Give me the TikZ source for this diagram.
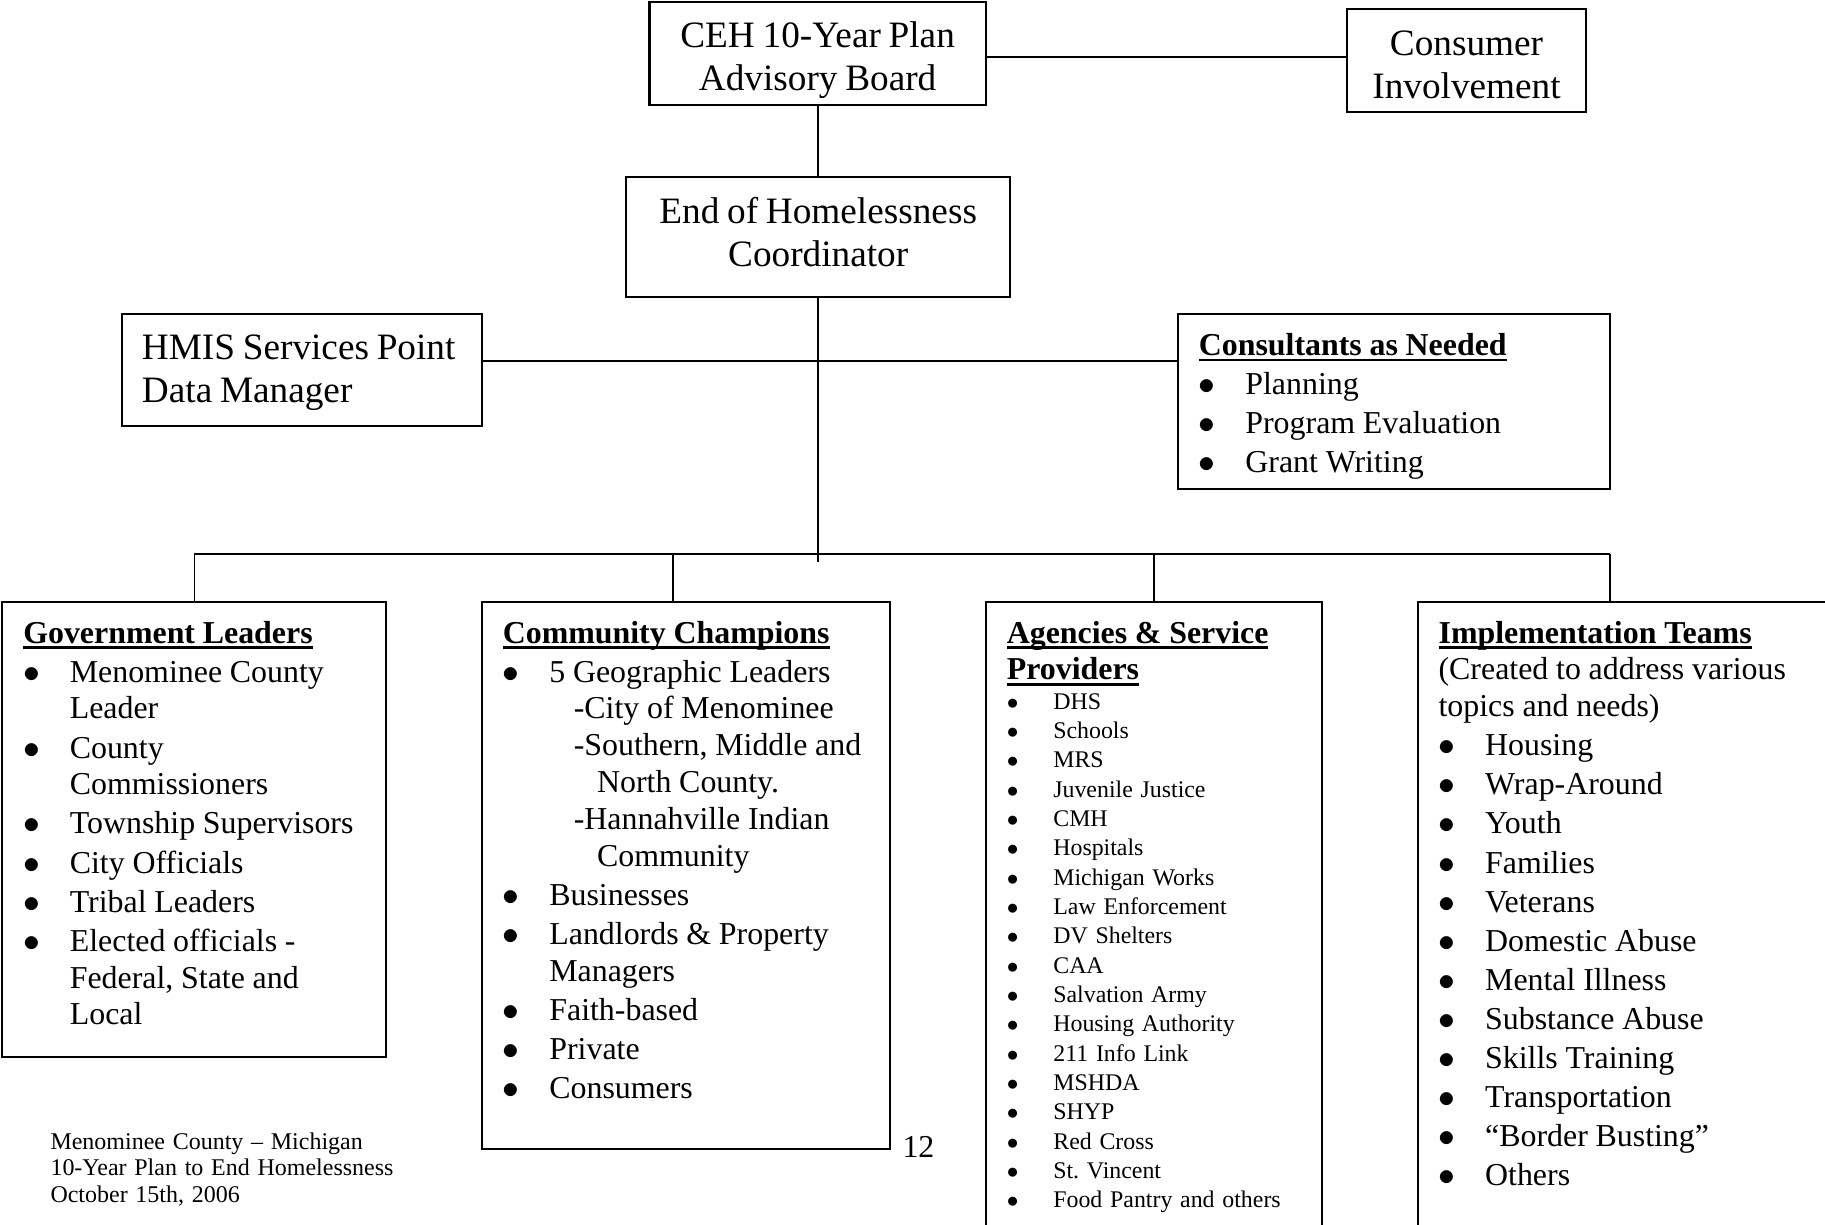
\documentclass[tikz,border=0pt]{standalone}
\usepackage{fontspec}
\setmainfont{Liberation Serif}
\usetikzlibrary{calc}

\newcommand{\bigtext}{\fontsize{16}{18.5}\selectfont}
\newcommand{\midtext}{\fontsize{13.7}{15.8}\selectfont\setlength{\parskip}{1pt}}
\newcommand{\smalltext}{\fontsize{10.25}{12.6}\selectfont\setlength{\parskip}{0pt}}
\newcommand{\foottext}{\fontsize{10.3}{11.5}\selectfont}
\newcommand{\ulhead}[1]{\leavevmode\setbox0=\hbox{\bfseries #1}\rlap{\rule[-2.5pt]{\wd0}{1.2pt}}\box0}
\newcommand{\bpoint}[1]{\par\hangindent=20pt\hangafter=1\noindent\makebox[20pt][l]{$\bullet$}#1}

\begin{document}
\begin{tikzpicture}[x=0.5pt,y=-0.5pt]
	\tikzset{box/.style = {shape=rectangle, draw, line width=0.9pt, inner sep=0pt, outer sep=0pt, anchor=north west}}
	\tikzset{link/.style = {line width=0.75pt}}
	
	\useasboundingbox (0,0) rectangle (1568,1052);
	
	% top of the chart
	\node[box, align=center, text width=144.5pt, text height=19.5pt, text depth=24.5pt] (BOARD) at (558,2)
	{\bigtext CEH 10-Year Plan\\ Advisory Board\par};
	\node[box, align=center, text width=103pt, text height=20pt, text depth=24pt] (CONSUMER) at (1157,8)
	{\bigtext Consumer\\ Involvement\par};
	\node[box, align=center, text width=165pt, text height=20pt, text depth=31.5pt] (COORD) at (538,152)
	{\bigtext End of Homelessness\\ Coordinator\par};
	\node[box, align=left, inner xsep=8.5pt, text width=137.5pt, text height=19.5pt, text depth=28.5pt] (HMIS) at (105,270)
	{\bigtext HMIS Services Point\\ Data Manager\par};
	\node[box, align=left, inner xsep=9pt, text width=167.5pt, text height=17.75pt, text depth=57.25pt] (CONSULT) at (1012,270)
	{\midtext \ulhead{Consultants as Needed}
		\bpoint{Planning}
		\bpoint{Program Evaluation}
		\bpoint{Grant Writing}\par};
	
	% the four groups
	\node[box, align=left, inner xsep=9pt, text width=147pt, text height=17.75pt, text depth=177.75pt] (GOV) at (2,517)
	{\midtext \ulhead{Government Leaders}
		\bpoint{Menominee County\newline Leader}
		\bpoint{County\newline Commissioners}
		\bpoint{Township Supervisors}
		\bpoint{City Officials}
		\bpoint{Tribal Leaders}
		\bpoint{Elected officials -\newline Federal, State and\newline Local}\par};
	\node[box, align=left, inner xsep=9pt, text width=157.5pt, text height=17.75pt, text depth=217.25pt] (CHAMP) at (414,517)
	{\midtext \ulhead{Community Champions}
		\bpoint{5 Geographic Leaders\newline
			\hspace*{10.5pt}-City of Menominee\newline
			\hspace*{10.5pt}-Southern, Middle and\newline
			\hspace*{20.5pt}North County.\newline
			\hspace*{10.5pt}-Hannahville Indian\newline
			\hspace*{20.5pt}Community}
		\bpoint{Businesses}
		\bpoint{Landlords \& Property\newline Managers}
		\bpoint{Faith-based}
		\bpoint{Private}
		\bpoint{Consumers}\par};
	\node[box, align=left, inner xsep=9pt, text width=126.5pt, text height=17.75pt, text depth=273.75pt] (AGENCY) at (847,517)
	{\midtext \ulhead{Agencies \& Service}\newline \ulhead{Providers}\par
		\smalltext
		\bpoint{DHS}
		\bpoint{Schools}
		\bpoint{MRS}
		\bpoint{Juvenile Justice}
		\bpoint{CMH}
		\bpoint{Hospitals}
		\bpoint{Michigan Works}
		\bpoint{Law Enforcement}
		\bpoint{DV Shelters}
		\bpoint{CAA}
		\bpoint{Salvation Army}
		\bpoint{Housing Authority}
		\bpoint{211 Info Link}
		\bpoint{MSHDA}
		\bpoint{SHYP}
		\bpoint{Red Cross}
		\bpoint{St.\ Vincent}
		\bpoint{Food Pantry and others}\par};
	\node[box, align=left, inner xsep=9pt, text width=198pt, text height=17.75pt, text depth=273.75pt] (TEAMS) at (1218,517)
	{\midtext \ulhead{Implementation Teams}\newline (Created to address various\newline topics and needs)
		\bpoint{Housing}
		\bpoint{Wrap-Around}
		\bpoint{Youth}
		\bpoint{Families}
		\bpoint{Veterans}
		\bpoint{Domestic Abuse}
		\bpoint{Mental Illness}
		\bpoint{Substance Abuse}
		\bpoint{Skills Training}
		\bpoint{Transportation}
		\bpoint{“Border Busting”}
		\bpoint{Others}\par};
	
	% footer
	\node[anchor=base west, inner sep=0pt, align=left, text width=200pt] (FOOT) at (43,987.2)
	{\foottext Menominee County -- Michigan\\ 10-Year Plan to End Homelessness\\ October 15th, 2006\par};
	\node[anchor=base west, inner sep=0pt, font=\midtext] (PAGE) at (775,994.5) {12};
	
	% connectors
	\coordinate (TOPLINK) at ($(BOARD.east)!.5!(CONSUMER.west)$);
	\coordinate (HZ) at (703,310);
	\coordinate (BUS) at (703,476);
	\coordinate (CHAMPTOP) at ([xshift=82pt]CHAMP.north west);
	\coordinate (TEAMSTOP) at ([xshift=82.5pt]TEAMS.north west);
	
	\draw[link] (BOARD.east |- TOPLINK) -- (CONSUMER.west |- TOPLINK);
	\draw[link] (BOARD.south) -- (BOARD.south |- COORD.north);
	\draw[link] (COORD.south) -- ([yshift=-3.5pt]BUS);
	\draw[link] (HMIS.east |- HZ) -- (CONSULT.west |- HZ);
	\draw[link] (BUS -| GOV.north) -- (BUS -| TEAMSTOP);
	\foreach \t in {GOV.north, CHAMPTOP, AGENCY.north, TEAMSTOP}
		\draw[link] (BUS -| \t) -- (\t);
	
\end{tikzpicture}
\end{document}
